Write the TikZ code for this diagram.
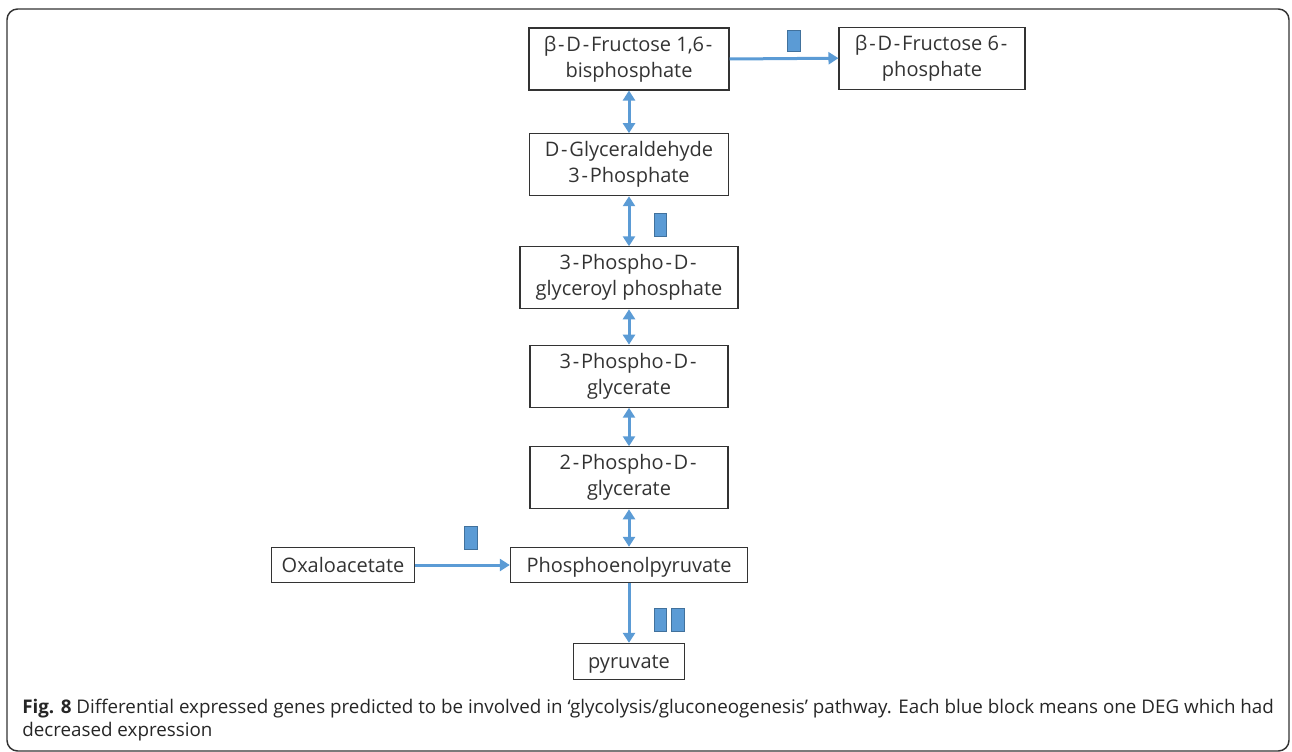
\documentclass[tikz,border=0pt]{standalone}
\usepackage{fontspec}
\setmainfont{Open Sans}
\usetikzlibrary{arrows.meta}
\definecolor{flowblue}{HTML}{5B9BD5}
\definecolor{blockedge}{HTML}{41719C}
\definecolor{boxedge}{HTML}{333333}
\newcommand{\hy}{\kern0.09em-\kern0.09em}
\begin{document}
\begin{tikzpicture}[x=0.75pt,y=-0.75pt,
  metab/.style={draw=boxedge,line width=0.8pt,inner sep=0pt,
    font=\fontsize{15}{19.5}\selectfont,text=black!80},
  tall/.style={metab,align=center,minimum height=46.5pt},
  flat/.style={metab,minimum height=26.5pt,text height=10.7pt,text depth=0pt},
  flow/.style={draw=flowblue,line width=2.25pt,
    -{Triangle[length=7.5pt,width=9pt]}},
  both/.style={flow,{Triangle[length=7.5pt,width=9pt]}-{Triangle[length=7.5pt,width=9pt]}},
  deg/.style={fill=flowblue,draw=blockedge,line width=0.6pt},
  caption/.style={anchor=base west,inner sep=0pt,font=\fontsize{14.1}{16}\selectfont,text=black!85}]
\useasboundingbox (0,0) rectangle (1292,752);
% outer frame
\draw[boxedge,line width=1.1pt,rounded corners=8pt] (7,9) rectangle (1289,751);

% metabolites
\node[tall,minimum width=150pt] (fbp) at (629,59) {β\hy D\hy Fructose 1,6\hy\\bisphosphate};
\node[tall,minimum width=139.5pt] (f6p) at (932,58.2) {β\hy D\hy Fructose 6\hy\\phosphate};
\node[tall,minimum width=149.5pt] (gap) at (629,164.7) {D\hy Glyceraldehyde\\3\hy Phosphate};
\node[tall,minimum width=163.5pt] (bpg) at (629,277.8) {3\hy Phospho\hy D\hy\\glyceroyl phosphate};
\node[tall,minimum width=148.5pt] (pg3) at (629,376.2) {3\hy Phospho\hy D\hy\\glycerate};
\node[tall,minimum width=148.5pt] (pg2) at (629,477.8) {2\hy Phospho\hy D\hy\\glycerate};
\node[flat,minimum width=178pt] (pep) at (629,565) {Phosphoenolpyruvate};
\node[flat,minimum width=107pt] (oaa) at (343,565) {Oxaloacetate};
\node[flat,minimum width=83pt,minimum height=27pt] (pyr) at (629,661.4) {pyruvate};

% reactions
\draw[flow] (fbp.east) -- (f6p.west);
\draw[both] (fbp.south) -- (gap.north);
\draw[both] (gap.south) -- (bpg.north);
\draw[both] (bpg.south) -- (pg3.north);
\draw[both] (pg3.south) -- (pg2.north);
\draw[both] (pg2.south) -- (pep.north);
\draw[flow] (oaa.east) -- (pep.west);
\draw[flow] (pep.south) -- (pyr.north);

% down-regulated genes
\draw[deg] (787.3,30) rectangle (800,51.7);
\draw[deg] (654,213.3) rectangle (666.7,236.7);
\draw[deg] (464.3,526) rectangle (477,549);
\draw[deg] (654,608.3) rectangle (666.7,631.7);
\draw[deg] (671,608.3) rectangle (684.3,631.7);

% caption
\node[caption] (cap1) at (22,713)
  {\textbf{Fig. 8} Differential expressed genes predicted to be involved in ‘glycolysis/gluconeogenesis’ pathway. Each blue block means one DEG which had};
\node[caption] (cap2) at (22,736)
  {decreased expression};
\end{tikzpicture}
\end{document}
